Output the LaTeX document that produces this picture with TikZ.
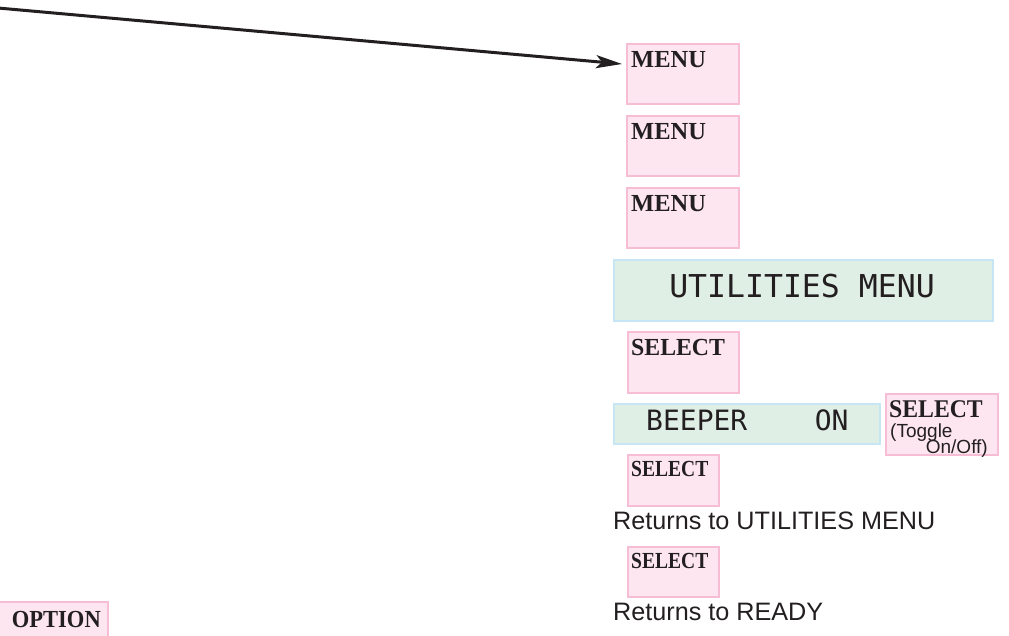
\documentclass[tikz,border=0pt]{standalone}
\usepackage{fontspec}
\setmainfont{Liberation Serif}
\newfontfamily\sansf{Liberation Sans}
\newfontfamily\monof{DejaVu Sans Mono}
\usetikzlibrary{arrows.meta}
\definecolor{pinkfill}{HTML}{FDE6F0}
\definecolor{pinkline}{HTML}{F6BDD5}
\definecolor{lcdfill}{HTML}{E0EFE6}
\definecolor{lcdline}{HTML}{C6E5F5}
\definecolor{ink}{HTML}{231F20}
\tikzset{
  keybox/.style={draw=pinkline, fill=pinkfill, line width=1.5pt, rectangle, inner sep=0pt, anchor=north west},
  lcdbox/.style={draw=lcdline, fill=lcdfill, line width=1.5pt, rectangle, inner sep=0pt, anchor=north west},
  keytxt/.style={inner sep=0pt, anchor=base west, text=ink, font=\bfseries\fontsize{24.5}{28}\selectfont},
  smallkey/.style={inner sep=0pt, anchor=base west, text=ink, font=\bfseries\fontsize{23}{28}\selectfont},
  lcdtxt/.style={inner sep=0pt, anchor=base, text=ink},
  note/.style={inner sep=0pt, anchor=base west, text=ink, font=\sansf\fontsize{25.2}{28}\selectfont},
  arrowline/.style={draw=ink, line width=3pt, -{Stealth[length=26pt,width=13pt,inset=6pt]}}
}
\begin{document}
\begin{tikzpicture}[x=1pt,y=-1pt]
\useasboundingbox (0,0) rectangle (1009,635);
% MENU keys
\node[keybox, minimum width=112pt, minimum height=60pt] (m1) at (626,43) {};
\node[keytxt] (m1t) at (631,67) {MENU};
\node[keybox, minimum width=112pt, minimum height=60pt] (m2) at (626,115) {};
\node[keytxt] (m2t) at (631,139) {MENU};
\node[keybox, minimum width=112pt, minimum height=60pt] (m3) at (626,187) {};
\node[keytxt] (m3t) at (631,211) {MENU};
% UTILITIES MENU display
\node[lcdbox, minimum width=379pt, minimum height=61pt] (lcd1) at (613,259) {};
\node[lcdtxt, font=\monof\fontsize{31.5}{34}\selectfont] (lcd1t) at (802,297) {UTILITIES MENU};
% SELECT key
\node[keybox, minimum width=111pt, minimum height=61pt] (s1) at (627,331) {};
\node[keytxt] (s1t) at (631,355) {\scalebox{0.97}[1]{SELECT}};
% BEEPER ON display
\node[lcdbox, minimum width=266pt, minimum height=40pt] (lcd2) at (613,403) {};
\node[inner sep=0pt, anchor=base west, text=ink, font=\monof\fontsize{28}{30}\selectfont] (lcd2t) at (646,430) {BEEPER\ \ \ \ ON};
% Toggle SELECT key
\node[keybox, minimum width=112pt, minimum height=61pt] (s2) at (885,393) {};
\node[inner sep=0pt, anchor=base west, text=ink, font=\bfseries\fontsize{25.5}{28}\selectfont] (s2t) at (889,417) {\scalebox{0.93}[1]{SELECT}};
\node[inner sep=0pt, anchor=base west, text=ink, font=\sansf\fontsize{19}{20}\selectfont] (s2a) at (890,437) {(Toggle};
\node[inner sep=0pt, anchor=base east, text=ink, font=\sansf\fontsize{19}{20}\selectfont] (s2b) at (988,453) {On/Off)};
% small SELECT keys
\node[keybox, minimum width=91pt, minimum height=51pt] (s3) at (627,454) {};
\node[smallkey] (s3t) at (631,476) {\scalebox{0.85}[1]{SELECT}};
\node[note] (n1) at (613,529) {Returns to UTILITIES MENU};
\node[keybox, minimum width=91pt, minimum height=50pt] (s4) at (627,546) {};
\node[smallkey] (s4t) at (631,568) {\scalebox{0.85}[1]{SELECT}};
\node[note] (n2) at (613,620) {Returns to READY};
% OPTION key (cut by the page edge)
\node[keybox, minimum width=120pt, minimum height=50pt] (opt) at (-13,601) {};
\node[inner sep=0pt, anchor=base east, text=ink, font=\bfseries\fontsize{24.5}{28}\selectfont] (optt) at (101,627) {\scalebox{0.92}[1]{OPTION}};
% arrow
\coordinate (start) at (-2,8);
\coordinate (tip) at (622,64);
\draw[arrowline] (start) -- (tip);
\end{tikzpicture}
\end{document}
